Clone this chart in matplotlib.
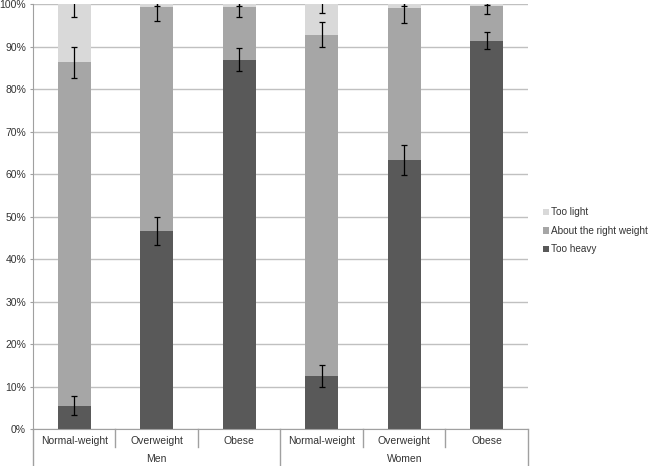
import matplotlib; matplotlib.use("Agg")
import matplotlib.pyplot as plt
import numpy as np

groups = ["Men", "Women"]
categories = ["Normal-weight", "Overweight", "Obese", "Normal-weight", "Overweight", "Obese"]
too_heavy = np.array([5.5, 46.7, 86.9, 12.4, 63.3, 91.3])
about_right = np.array([80.8, 52.5, 12.5, 80.4, 35.8, 8.3])
too_light = 100 - too_heavy - about_right
err_heavy = [2.2, 3.3, 2.7, 2.6, 3.5, 2.0]
err_right = [3.6, 3.2, 2.5, 3.0, 3.5, 1.9]
err_light = [3.0, 0.5, 0.5, 2.0, 0.5, 0.3]

c_heavy, c_right, c_light = "#595959", "#a6a6a6", "#d9d9d9"
txt = "#333333"
plt.rcParams.update({"font.family": ["Liberation Sans", "DejaVu Sans"], "font.size": 7.5})

fig = plt.figure(figsize=(6.48, 4.66), dpi=100)
ax = fig.add_axes([0.0509, 0.0794, 0.7639, 0.912])
x = np.arange(len(categories))
w = 0.4
ax.bar(x, too_heavy, w, color=c_heavy, label="Too heavy", zorder=2)
ax.bar(x, about_right, w, bottom=too_heavy, color=c_right, label="About the right weight", zorder=2)
ax.bar(x, too_light, w, bottom=too_heavy + about_right, color=c_light, label="Too light", zorder=2)
ek = dict(fmt="none", ecolor="black", elinewidth=0.9, capsize=2.5, capthick=0.9, zorder=3)
ax.errorbar(x, too_heavy, yerr=err_heavy, **ek)
ax.errorbar(x, too_heavy + about_right, yerr=err_right, **ek)
ax.errorbar(x, np.full(6, 100.0), yerr=err_light, **ek)

ax.set_xlim(-0.5, 5.5)
ax.set_ylim(0, 100)
ax.set_yticks(range(0, 101, 10))
ax.set_yticklabels([f"{v}%" for v in range(0, 101, 10)], color=txt)
ax.tick_params(axis="y", length=2, color="#a0a0a0", pad=3)
ax.set_xticks([])
ax.grid(axis="y", color="#c0c0c0", linewidth=1, zorder=0)
for s in ["top", "right"]:
    ax.spines[s].set_visible(False)
ax.spines["left"].set_color("#a0a0a0")
ax.spines["bottom"].set_color("#a0a0a0")

tr = ax.get_xaxis_transform()
for xs in [0.5, 1.5, 3.5, 4.5]:
    ax.plot([xs, xs], [0, -0.042], transform=tr, color="#a0a0a0", lw=1, clip_on=False)
for xs in [-0.5, 2.5, 5.5]:
    ax.plot([xs, xs], [0, -0.09], transform=tr, color="#a0a0a0", lw=1, clip_on=False)
for xi, c in zip(x, categories):
    ax.text(xi, -0.029, c, transform=tr, ha="center", va="center", color=txt)
for gi, g in enumerate(groups):
    ax.text(1 + 3 * gi, -0.07, g, transform=tr, ha="center", va="center", color=txt)

h, l = ax.get_legend_handles_labels()
ax.legend(h[::-1], l[::-1], loc="center left", bbox_to_anchor=(1.03, 0.466), frameon=False,
          borderaxespad=0, borderpad=0, prop={"size": 7.2},
          handlelength=0.6, handleheight=0.6, handletextpad=0.25, labelspacing=0.85,
          labelcolor=txt)

fig.savefig("out.png", dpi=100)
